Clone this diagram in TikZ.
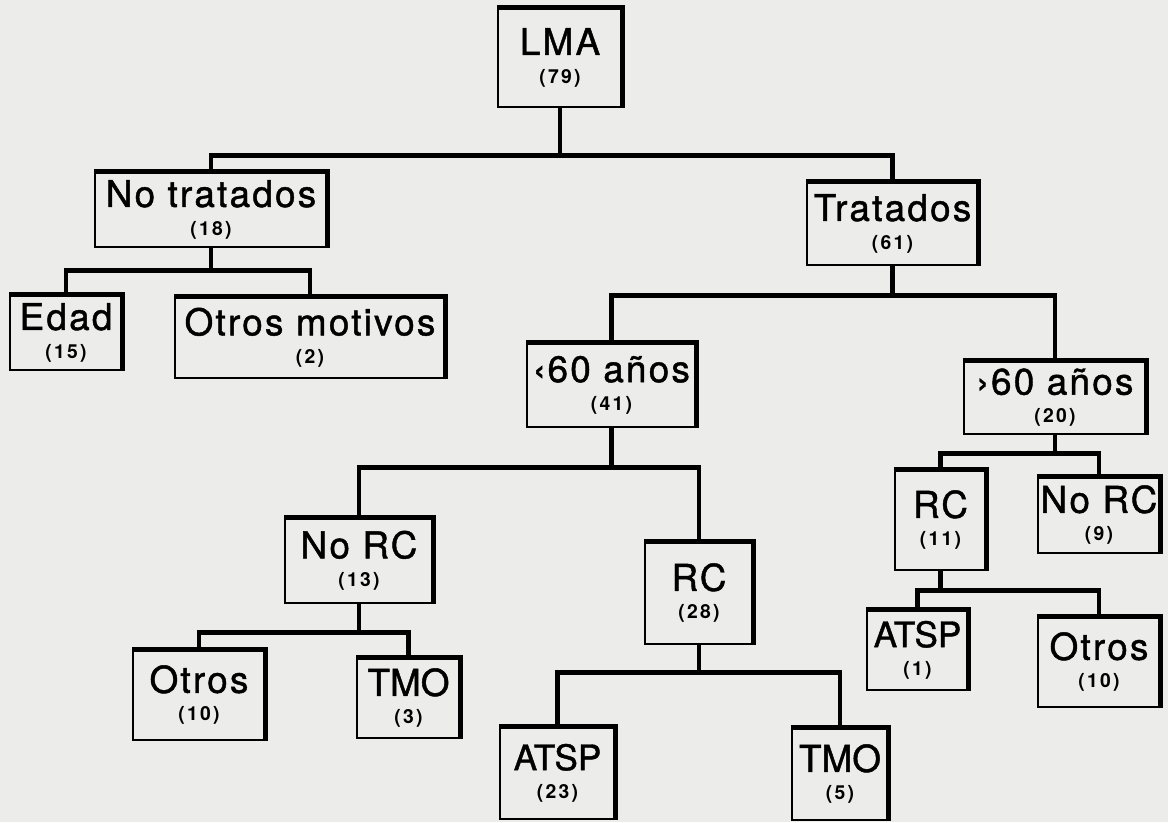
\documentclass[tikz,border=0pt]{standalone}
\usepackage{fontspec}
\setmainfont{TeX Gyre Heros}
\newfontfamily\ancha[LetterSpace=6,FakeBold=1.2]{TeX Gyre Heros}
\newfontfamily\estrecha[FakeBold=1.2]{TeX Gyre Heros}
\newfontfamily\cifras[LetterSpace=12]{TeX Gyre Heros}
\usepackage{tikz}
\usetikzlibrary{positioning}
\definecolor{fondo}{RGB}{236,236,234}
\newcommand{\cant}[1]{{\cifras\bfseries\fontsize{11}{16}\selectfont(#1)}}

\begin{document}
\begin{tikzpicture}[x=0.02cm,y=-0.02cm,
  caja/.style 2 args={rectangle,draw,line width=0.8pt,fill=fondo,inner sep=0pt,align=center,
               font=\ancha\fontsize{21}{16}\selectfont,minimum width=#1*0.02cm,minimum height=#2*0.02cm},
  estrecha/.style={font=\estrecha\fontsize{#1}{16}\selectfont},
  borde/.style={line width=2.8pt,line join=miter},
  rama/.style={line width=2.6pt,line join=miter}
]
\fill[fondo] (0,0) rectangle (1168,822);
\useasboundingbox (0,0) rectangle (1168,822);

% Raiz
\node[caja={124}{99}] (lma) at (560,57.5) {LMA\\\cant{79}};
% Primer nivel
\node[caja={232}{75}] (notrat) at (211,209.5) {No tratados\\\cant{18}};
\node[caja={171}{83}] (trat) at (892.5,223.5) {Tratados\\\cant{61}};
% No tratados
\node[caja={112}{75}] (edad) at (66,332.5) {Edad\\\cant{15}};
\node[caja={270}{81}] (motiv) at (310,337.5) {Otros motivos\\\cant{2}};
% Tratados
\node[caja={169}{84}] (menos) at (611.5,385) {‹60 años\\\cant{41}};
\node[caja={182}{73}] (mas) at (1055,397.5) {›60 años\\\cant{20}};
% Menores de 60
\node[caja={148}{85}] (norca) at (359,560.5) {No RC\\\cant{13}};
\node[caja={108}{102}] (rca) at (699,593) {RC\\\cant{28}};
\node[caja={132}{90}] (otrosa) at (199,695) {Otros\\\cant{10}};
\node[caja={103}{80},estrecha=21] (tmoa) at (408.5,698) {TMO\\\cant{3}};
\node[caja={115}{92},estrecha=20] (atspa) at (557.5,773) {ATSP\\\cant{23}};
\node[caja={96}{92},estrecha=21] (tmob) at (840,774) {TMO\\\cant{5}};
% Mayores de 60
\node[caja={91}{100}] (rcb) at (940.5,520) {RC\\\cant{11}};
\node[caja={122}{76}] (norcb) at (1099,515) {No RC\\\cant{9}};
\node[caja={101}{80},estrecha=20] (atspb) at (917.5,650) {ATSP\\\cant{1}};
\node[caja={122}{90}] (otrosb) at (1099,662) {Otros\\\cant{10}};

% Bordes gruesos
\foreach \n in {lma,notrat,trat,edad,motiv,menos,mas,norca,rca,otrosa,tmoa,atspa,tmob,rcb,norcb,atspb,otrosb}
  \draw[borde] (\n.north west) -- (\n.north east) -- (\n.south east);

% Ramas
\draw[rama] (lma.south) -- ++(0,48) -| (notrat.north);
\draw[rama] (lma.south) -- ++(0,48) -| (trat.north);
\draw[rama] (notrat.south) -- ++(0,23) -| (edad.north);
\draw[rama] (notrat.south) -- ++(0,23) -| (motiv.north);
\draw[rama] (trat.south) -- ++(0,30) -| (menos.north);
\draw[rama] (trat.south) -- ++(0,30) -| (mas.north);
\draw[rama] (menos.south) -- ++(0,40) -| (norca.north);
\draw[rama] (menos.south) -- ++(0,40) -| (rca.north);
\draw[rama] (norca.south) -- ++(0,29) -| (otrosa.north);
\draw[rama] (norca.south) -- ++(0,29) -| (tmoa.north);
\draw[rama] (rca.south) -- ++(0,28) -| (atspa.north);
\draw[rama] (rca.south) -- ++(0,28) -| (tmob.north);
\draw[rama] (mas.south) -- ++(0,19) -| (rcb.north);
\draw[rama] (mas.south) -- ++(0,19) -| (norcb.north);
\draw[rama] (rcb.south) -- ++(0,20) -| (atspb.north);
\draw[rama] (rcb.south) -- ++(0,20) -| (otrosb.north);
\end{tikzpicture}
\end{document}
